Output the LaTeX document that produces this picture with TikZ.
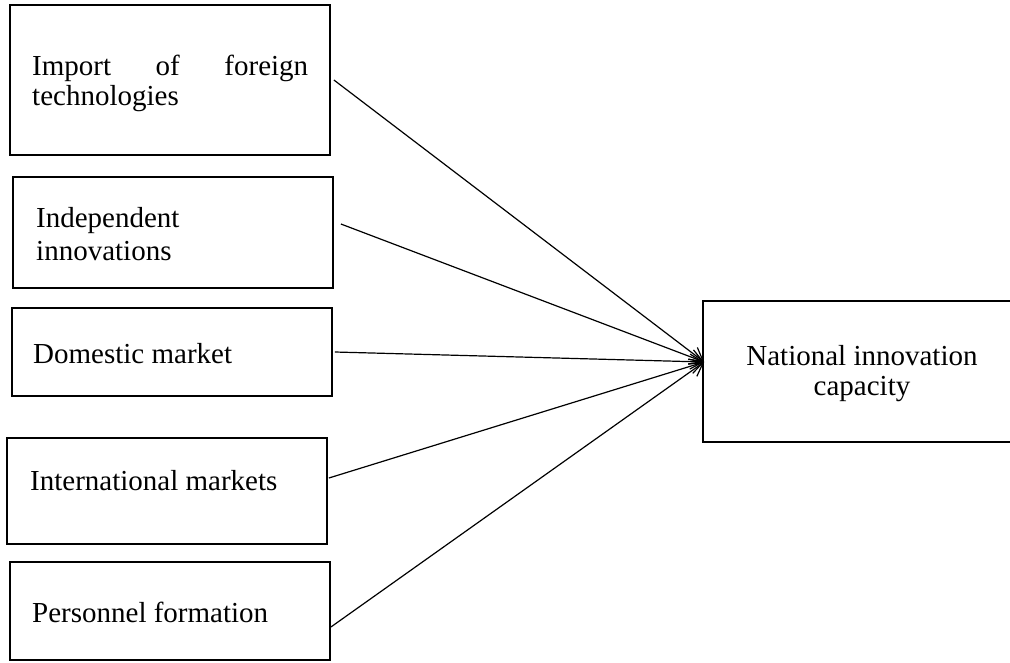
\documentclass[tikz,border=0pt]{standalone}
\usepackage{fontspec}
\setmainfont{Liberation Serif}
\usetikzlibrary{arrows.meta}
\begin{document}
\begin{tikzpicture}[x=1pt,y=-1pt,
  box/.style={draw,line width=1.8pt,inner sep=0pt,minimum width=320pt},
  label/.style={inner sep=0pt,font=\fontsize{29}{31}\selectfont},
  link/.style={line width=1.2pt,-{Straight Barb[length=13pt,width=15pt]}}]
\useasboundingbox (0,0) rectangle (1010,662);
\clip (0,0) rectangle (1010,662);

% factor boxes on the left
\node[box,minimum height=150pt] (imp) at (170,80) {};
\node[box,minimum height=111pt] (ind) at (173,232.5) {};
\node[box,minimum height=88pt]  (dom) at (172,352) {};
\node[box,minimum height=106pt] (int) at (167,491) {};
\node[box,minimum height=98pt]  (per) at (170,611) {};

% result box on the right
\node[box,minimum width=318pt,minimum height=141pt] (nic) at (862,371.5) {};

% texts
\node[label,anchor=base west] (timp) at (32,75)
  {\begin{tabular}[t]{@{}l@{}}\makebox[276pt][s]{Import\hfill of\hfill foreign}\\[-1pt]technologies\end{tabular}};
\node[label,anchor=base west] (tind) at (36,227)
  {\begin{tabular}[t]{@{}l@{}}Independent\\[2pt]innovations\end{tabular}};
\node[label,anchor=base west] (tdom) at (33,363) {Domestic market};
\node[label,anchor=base west] (tint) at (30,490) {International markets};
\node[label,anchor=base west] (tper) at (32,622) {Personnel formation};
\node[label,anchor=base] (tnic) at (862,365)
  {\begin{tabular}[t]{@{}c@{}}National innovation\\[-1pt]capacity\end{tabular}};

% connectors
\coordinate (hub) at ([xshift=2pt,yshift=9.5pt]nic.west);
\draw[link] ([xshift=3pt]imp.east) -- (hub);
\draw[link] ([xshift=7pt,yshift=8.5pt]ind.east) -- (hub);
\draw[link] ([xshift=2pt]dom.east) -- (hub);
\draw[link] ([xshift=1pt,yshift=13pt]int.east) -- (hub);
\draw[link] ([yshift=-16pt]per.east) -- (hub);
\end{tikzpicture}
\end{document}
